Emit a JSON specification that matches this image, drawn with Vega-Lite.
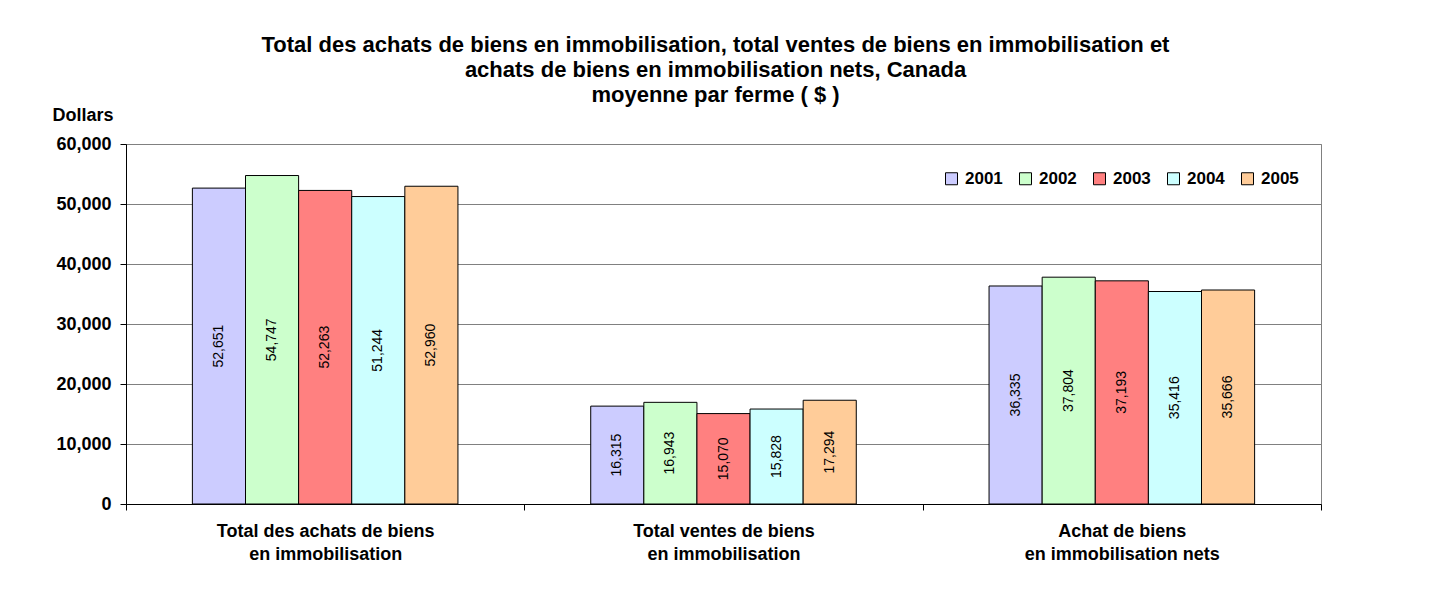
{
  "$schema": "https://vega.github.io/schema/vega-lite/v6.json",
  "autosize": "none",
  "width": 1195,
  "height": 360,
  "padding": {"left": 126, "top": 144, "right": 114, "bottom": 91},
  "background": "white",
  "config": {
    "font": "Liberation Sans",
    "view": {"stroke": "#808080", "strokeWidth": 1}
  },
  "title": {
    "text": ["Total des achats de biens en immobilisation, total ventes de biens en immobilisation et", "achats de biens en immobilisation nets, Canada", "moyenne par ferme ( $ )"],
    "fontSize": 22,
    "fontWeight": "bold",
    "font": "Liberation Sans",
    "color": "black",
    "anchor": "middle",
    "lineHeight": 25,
    "offset": 3,
    "dy": 4,
    "dx": -8
  },
  "data": {
    "values": [
      {"cat": "Total des achats de biens|en immobilisation", "year": "2001", "value": 52651},
      {"cat": "Total des achats de biens|en immobilisation", "year": "2002", "value": 54747},
      {"cat": "Total des achats de biens|en immobilisation", "year": "2003", "value": 52263},
      {"cat": "Total des achats de biens|en immobilisation", "year": "2004", "value": 51244},
      {"cat": "Total des achats de biens|en immobilisation", "year": "2005", "value": 52960},
      {"cat": "Total ventes de biens|en immobilisation", "year": "2001", "value": 16315},
      {"cat": "Total ventes de biens|en immobilisation", "year": "2002", "value": 16943},
      {"cat": "Total ventes de biens|en immobilisation", "year": "2003", "value": 15070},
      {"cat": "Total ventes de biens|en immobilisation", "year": "2004", "value": 15828},
      {"cat": "Total ventes de biens|en immobilisation", "year": "2005", "value": 17294},
      {"cat": "Achat de biens|en immobilisation nets", "year": "2001", "value": 36335},
      {"cat": "Achat de biens|en immobilisation nets", "year": "2002", "value": 37804},
      {"cat": "Achat de biens|en immobilisation nets", "year": "2003", "value": 37193},
      {"cat": "Achat de biens|en immobilisation nets", "year": "2004", "value": 35416},
      {"cat": "Achat de biens|en immobilisation nets", "year": "2005", "value": 35666}
    ]
  },
  "encoding": {
    "x": {
      "field": "cat",
      "type": "nominal",
      "sort": null,
      "scale": {"paddingInner": 0, "paddingOuter": 0},
      "axis": {
        "title": null,
        "labelAngle": 0,
        "tickBand": "extent",
        "labelExpr": "split(datum.label, '|')",
        "labelFontWeight": "bold",
        "labelFontSize": 18,
        "labelColor": "black",
        "labelLineHeight": 23,
        "labelPadding": 12,
        "labelLimit": 0,
        "tickSize": 6,
        "tickColor": "black",
        "domainColor": "black",
        "grid": false
      }
    },
    "xOffset": {
      "field": "year",
      "type": "nominal",
      "scale": {"domain": ["_a", "2001", "2002", "2003", "2004", "2005", "_b"], "paddingInner": 0, "paddingOuter": 0.25}
    }
  },
  "layer": [
    {
      "mark": {"type": "bar", "stroke": "black", "strokeWidth": 1},
      "encoding": {
        "y": {
          "field": "value",
          "type": "quantitative",
          "scale": {"domain": [0, 60000], "nice": false},
          "axis": {
            "values": [0, 10000, 20000, 30000, 40000, 50000, 60000],
            "format": ",d",
            "title": "Dollars",
            "titleAngle": 0,
            "titleAlign": "left",
            "titleBaseline": "middle",
            "titleX": -74,
            "titleY": -29,
            "titleFontSize": 18,
            "titleFontWeight": "bold",
            "titleColor": "black",
            "labelFontSize": 18,
            "labelFontWeight": "bold",
            "labelColor": "black",
            "labelPadding": 9,
            "tickSize": 6,
            "tickColor": "black",
            "domainColor": "black",
            "gridColor": "#808080",
            "gridWidth": 1
          }
        },
        "color": {
          "field": "year",
          "type": "nominal",
          "scale": {
            "domain": ["2001", "2002", "2003", "2004", "2005"],
            "range": ["#CCCCFF", "#CCFFCC", "#FF8080", "#CCFFFF", "#FFCC99"]
          },
          "legend": {
            "title": null,
            "orient": "none",
            "legendX": 817,
            "legendY": 26,
            "direction": "horizontal",
            "columns": 5,
            "columnPadding": 14,
            "symbolType": "square",
            "symbolSize": 144,
            "symbolStrokeColor": "black",
            "symbolStrokeWidth": 1,
            "symbolOpacity": 1,
            "labelFontSize": 17,
            "labelFontWeight": "bold",
            "labelColor": "black",
            "labelOffset": 5
          }
        }
      }
    },
    {
      "mark": {"type": "text", "angle": 270, "align": "center", "baseline": "middle", "fontSize": 14, "color": "black"},
      "encoding": {
        "y": {"field": "value", "type": "quantitative", "scale": {"domain": [0, 120000], "nice": false}, "axis": null},
        "text": {"field": "value", "type": "quantitative", "format": ","}
      }
    }
  ],
  "resolve": {"scale": {"y": "independent"}}
}
